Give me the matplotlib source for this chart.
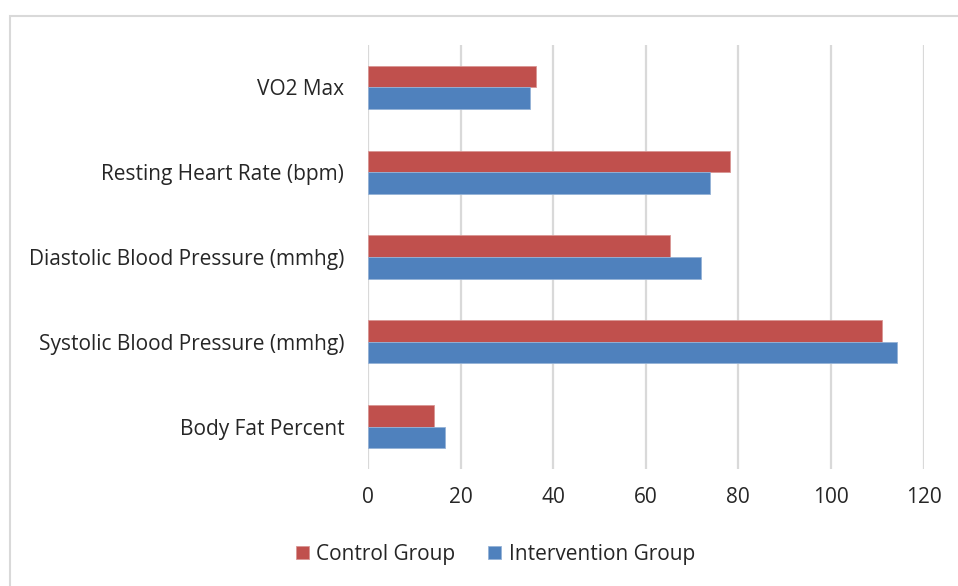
import matplotlib.pyplot as plt
import numpy as np
from matplotlib.patches import Rectangle

plt.rcParams['font.family'] = ['Open Sans', 'DejaVu Sans']

# measures, listed bottom to top
measures = ['Body Fat Percent', 'Systolic Blood Pressure (mmhg)',
            'Diastolic Blood Pressure (mmhg)', 'Resting Heart Rate (bpm)', 'VO2 Max']
control = [14.3, 111.0, 65.2, 78.3, 36.2]
intervention = [16.6, 114.3, 72.0, 73.9, 35.1]
x_ticks = [0, 20, 40, 60, 80, 100, 120]

fig = plt.figure(figsize=(9.58, 5.86), dpi=100)
ax = fig.add_axes([0.3841, 0.1997, 0.5799, 0.7235])

y = np.arange(len(measures))
h = 0.254
ax.barh(y + h / 2, control, height=h, color='#C0504D', edgecolor='#D99694',
        linewidth=0.6, label='Control Group', zorder=3)
ax.barh(y - h / 2, intervention, height=h, color='#4F81BD', edgecolor='#95B3D7',
        linewidth=0.6, label='Intervention Group', zorder=3)

ax.set_xlim(0, 120)
ax.set_ylim(-0.5, len(measures) - 0.5)
ax.set_xticks(x_ticks)
ax.set_yticks(y)
ax.set_yticklabels(measures)
ax.tick_params(axis='both', length=0, labelsize=15, colors='#262626')
ax.tick_params(axis='y', pad=17)
ax.tick_params(axis='x', pad=13)
ax.grid(axis='x', color='#D9D9D9', linewidth=1.6, zorder=0)
for side in ax.spines.values():
    side.set_visible(False)

leg = fig.legend(loc='center', bbox_to_anchor=(0.517, 0.054), ncol=2, frameon=False,
                 fontsize=15, handlelength=0.65, handleheight=0.65,
                 handletextpad=0.35, columnspacing=1.55)
for t in leg.get_texts():
    t.set_color('#262626')

# chart-area border
fig.patches.append(Rectangle((10 / 958, -0.05), 1.0, 1 - 16 / 586 + 0.05,
                             transform=fig.transFigure, fill=False,
                             edgecolor='#D9D9D9', linewidth=1.5))

fig.savefig('out.png', dpi=100)
